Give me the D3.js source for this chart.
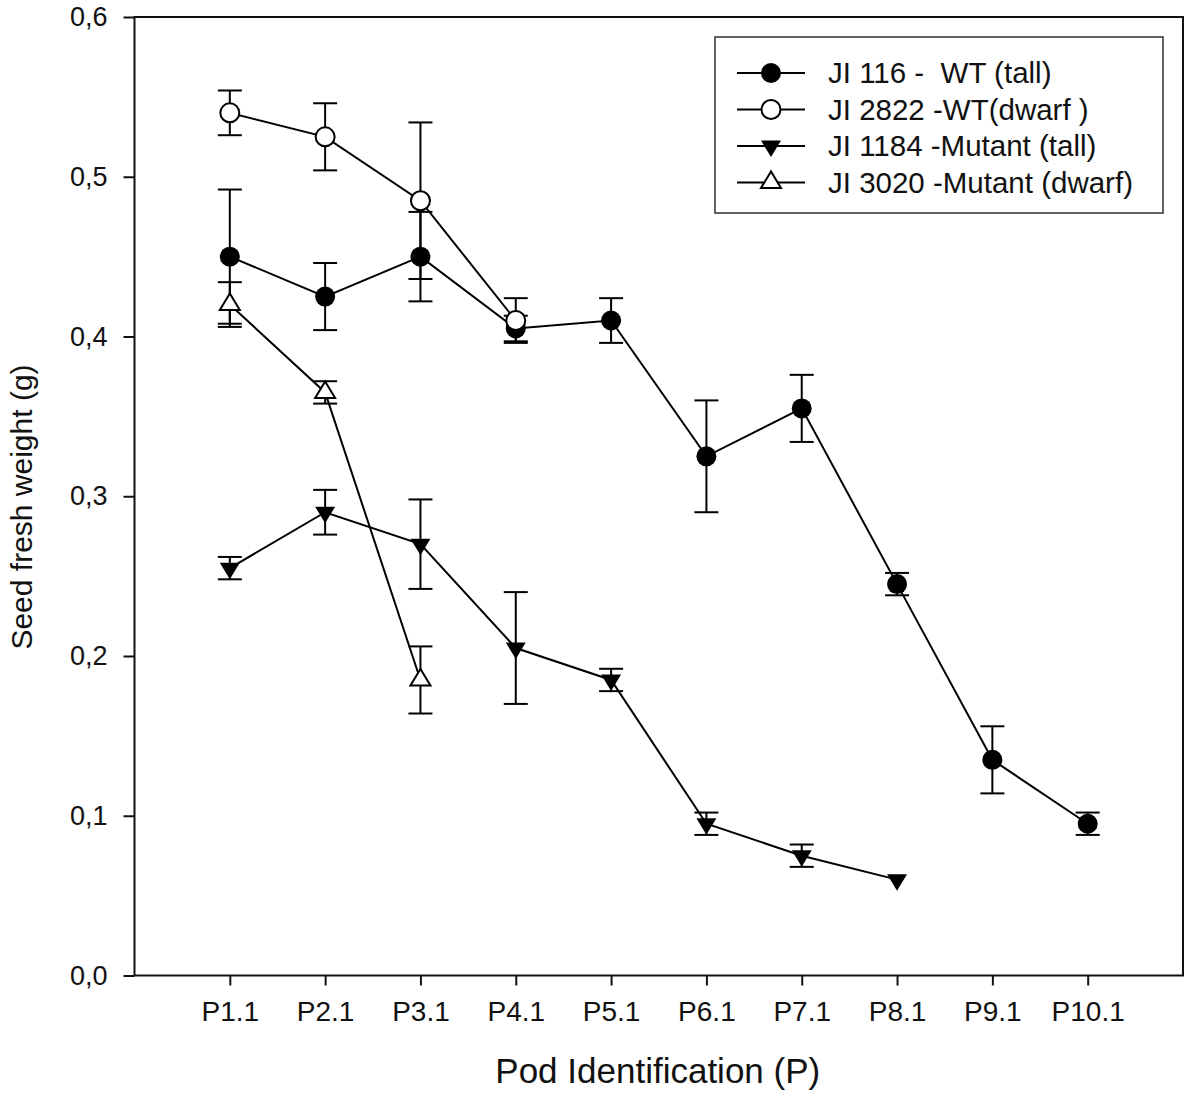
<!DOCTYPE html>
<html>
<head>
<meta charset="utf-8">
<script src="https://d3js.org/d3.v7.min.js"></script>
<style>
  html, body { margin: 0; padding: 0; background: #fff; }
  svg text { font-family: "Liberation Sans", Arial, sans-serif; fill: #111; }
</style>
</head>
<body>
<script>
// ---- data ----
const categories = ["P1.1","P2.1","P3.1","P4.1","P5.1","P6.1","P7.1","P8.1","P9.1","P10.1"];
const yTicks = [0.0, 0.1, 0.2, 0.3, 0.4, 0.5, 0.6];

const jl116 = [0.45, 0.425, 0.45, 0.405, 0.41, 0.325, 0.355, 0.245, 0.135, 0.095];
const jl116Err = [0.042, 0.021, 0.028, 0.008, 0.014, 0.035, 0.021, 0.007, 0.021, 0.007];

const jl2822 = [0.54, 0.525, 0.485, 0.41];
const jl2822Err = [0.014, 0.021, 0.049, 0.014];

const jl1184 = [0.255, 0.29, 0.27, 0.205, 0.185, 0.095, 0.075, 0.06];
const jl1184Err = [0.007, 0.014, 0.028, 0.035, 0.007, 0.007, 0.007, 0];

const jl3020 = [0.42, 0.365, 0.185];
const jl3020Err = [0.014, 0.007, 0.021];

const seriesNames = ["JI 116 -  WT (tall)", "JI 2822 -WT(dwarf )", "JI 1184 -Mutant (tall)", "JI 3020 -Mutant (dwarf)"];

(function () {
// ---- layout ----
const W = 1200, H = 1093;
const pLeft = 134.5, pRight = 1183, pTop = 17, pBottom = 975.5;

const svg = d3.select("body").append("svg")
  .attr("width", W).attr("height", H);

const x = d3.scaleLinear().domain([0, categories.length + 1]).range([pLeft, pRight]);
const y = d3.scaleLinear().domain([0, 0.6]).range([pBottom, pTop]);

// frame
svg.append("rect")
  .attr("x", pLeft).attr("y", pTop)
  .attr("width", pRight - pLeft).attr("height", pBottom - pTop)
  .attr("fill", "none").attr("stroke", "#111").attr("stroke-width", 2);

// y axis
const yAxis = d3.axisLeft(y).tickValues(yTicks).tickSize(11).tickPadding(16)
  .tickFormat(d => d3.format(".1f")(d).replace(".", ","));
const gy = svg.append("g").attr("transform", `translate(${pLeft},0)`).call(yAxis);
gy.select(".domain").remove();
gy.selectAll(".tick line").attr("stroke", "#111").attr("stroke-width", 2);
gy.selectAll(".tick text").attr("font-size", 27).attr("fill", "#111")
  .attr("font-family", "'Liberation Sans', Arial, sans-serif");

// x axis
const xAxis = d3.axisBottom(x).tickValues(d3.range(1, categories.length + 1))
  .tickSize(10).tickPadding(16).tickFormat(d => categories[d - 1]);
const gx = svg.append("g").attr("transform", `translate(0,${pBottom})`).call(xAxis);
gx.select(".domain").remove();
gx.selectAll(".tick line").attr("stroke", "#111").attr("stroke-width", 2);
gx.selectAll(".tick text").attr("font-size", 28).attr("fill", "#111")
  .attr("font-family", "'Liberation Sans', Arial, sans-serif");

// axis titles
svg.append("text")
  .attr("x", (pLeft + pRight) / 2 - 1).attr("y", 1083)
  .attr("text-anchor", "middle").attr("font-size", 35)
  .text("Pod Identification (P)");

svg.append("text")
  .attr("transform", `translate(32,507) rotate(-90)`)
  .attr("text-anchor", "middle").attr("font-size", 30)
  .text("Seed fresh weight (g)");

// symbols
const downTri = "M-10,-5.5L10,-5.5L0,11Z";
const upTri = "M-10,5.5L10,5.5L0,-11Z";

function drawMarker(g, type, cx, cy) {
  if (type === "filledCircle") {
    g.append("circle").attr("cx", cx).attr("cy", cy).attr("r", 10).attr("fill", "#000");
  } else if (type === "openCircle") {
    g.append("circle").attr("cx", cx).attr("cy", cy).attr("r", 9.5)
      .attr("fill", "#fff").attr("stroke", "#000").attr("stroke-width", 2);
  } else if (type === "downTri") {
    g.append("path").attr("d", downTri).attr("transform", `translate(${cx},${cy})`).attr("fill", "#000");
  } else if (type === "upTri") {
    g.append("path").attr("d", upTri).attr("transform", `translate(${cx},${cy})`)
      .attr("fill", "#fff").attr("stroke", "#000").attr("stroke-width", 2);
  }
}

const series = [
  { vals: jl116, err: jl116Err, type: "filledCircle" },
  { vals: jl2822, err: jl2822Err, type: "openCircle" },
  { vals: jl1184, err: jl1184Err, type: "downTri" },
  { vals: jl3020, err: jl3020Err, type: "upTri" }
];

const line = d3.line().x((d, i) => x(i + 1)).y(d => y(d));
const capHalf = 12;

series.forEach(s => {
  const g = svg.append("g");
  s.vals.forEach((v, i) => {
    const e = s.err[i];
    if (!e) return;
    const cx = x(i + 1);
    g.append("line").attr("x1", cx).attr("x2", cx).attr("y1", y(v - e)).attr("y2", y(v + e))
      .attr("stroke", "#000").attr("stroke-width", 2);
    [v - e, v + e].forEach(t => {
      g.append("line").attr("x1", cx - capHalf).attr("x2", cx + capHalf)
        .attr("y1", y(t)).attr("y2", y(t)).attr("stroke", "#000").attr("stroke-width", 2);
    });
  });
  g.append("path").datum(s.vals).attr("d", line)
    .attr("fill", "none").attr("stroke", "#000").attr("stroke-width", 2);
});

series.forEach(s => {
  const g = svg.append("g");
  s.vals.forEach((v, i) => drawMarker(g, s.type, x(i + 1), y(v)));
});

// legend
const lg = svg.append("g");
lg.append("rect").attr("x", 715).attr("y", 37).attr("width", 448).attr("height", 176)
  .attr("fill", "#fff").attr("stroke", "#333").attr("stroke-width", 1.5);
const legendY = [73, 109.5, 146, 182.5];
series.forEach((s, i) => {
  const cy = legendY[i];
  lg.append("line").attr("x1", 737).attr("x2", 805).attr("y1", cy).attr("y2", cy)
    .attr("stroke", "#000").attr("stroke-width", 2);
  drawMarker(lg, s.type, 771, cy);
  lg.append("text").attr("x", 828).attr("y", cy + 10).attr("font-size", 29.5)
    .style("white-space", "pre")
    .text(seriesNames[i]);
});
})();
</script>
</body>
</html>
